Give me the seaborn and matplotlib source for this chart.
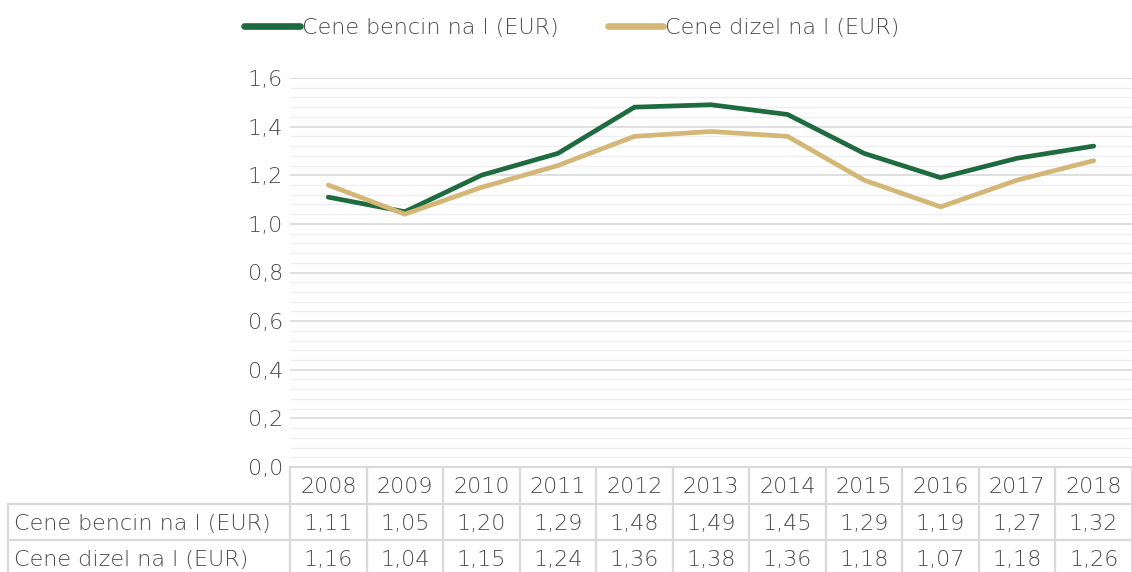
import matplotlib
matplotlib.use("Agg")
import matplotlib.pyplot as plt
import matplotlib.transforms as mtransforms
from matplotlib.ticker import MultipleLocator, FuncFormatter
import seaborn as sns
import pandas as pd

years = ["2008", "2009", "2010", "2011", "2012", "2013", "2014", "2015", "2016", "2017", "2018"]
series_names = ["Cene bencin na l (EUR)", "Cene dizel na l (EUR)"]
bencin = [1.11, 1.05, 1.20, 1.29, 1.48, 1.49, 1.45, 1.29, 1.19, 1.27, 1.32]
dizel = [1.16, 1.04, 1.15, 1.24, 1.36, 1.38, 1.36, 1.18, 1.07, 1.18, 1.26]
colors = ["#1E6B40", "#D4B776"]

sns.set_theme(style="white")
plt.rcParams["font.family"] = ["DejaVu Sans"]
plt.rcParams["font.weight"] = "light"
TXT = "#4a4a4a"
FS = 16

rows = []
for name, vals in zip(series_names, [bencin, dizel]):
    for i, v in enumerate(vals):
        rows.append({"idx": i, "year": years[i], "value": v, "series": name})
df = pd.DataFrame(rows)

fig = plt.figure(figsize=(11.32, 5.72), dpi=100)
W, H = 1132, 572
left, right, top, bottom = 290, 1132, 78, 467
ax = fig.add_axes([left / W, 1 - bottom / H, (right - left) / W, (bottom - top) / H])

sns.lineplot(data=df, x="idx", y="value", hue="series", palette=colors,
             linewidth=3.4, ax=ax, legend=True)
for line in ax.get_lines():
    line.set_solid_capstyle("round")
    line.set_solid_joinstyle("miter")

ax.set_xlim(-0.5, len(years) - 0.5)
ax.set_ylim(0, 1.6)
ax.yaxis.set_major_locator(MultipleLocator(0.2))
ax.yaxis.set_minor_locator(MultipleLocator(0.04))
ax.yaxis.set_major_formatter(FuncFormatter(lambda v, p: f"{v:.1f}".replace(".", ",")))
ax.grid(True, which="major", axis="y", color="#d9d9d9", linewidth=1.2)
ax.grid(True, which="minor", axis="y", color="#eeeeee", linewidth=1.0)
ax.set_axisbelow(True)
ax.tick_params(axis="y", which="both", length=0, labelsize=FS, labelcolor=TXT, pad=5)
ax.set_xticks([])
ax.set_xlabel("")
ax.set_ylabel("")
for s in ax.spines.values():
    s.set_visible(False)

# legend
handles, labels = ax.get_legend_handles_labels()
leg = ax.legend(handles, labels, loc="center", bbox_to_anchor=(572 / W, 1 - 28 / H),
                bbox_transform=fig.transFigure, ncol=2, frameon=False,
                fontsize=FS, handlelength=2.5, handletextpad=0.1, columnspacing=2.2)
for t in leg.get_texts():
    t.set_color(TXT)
for lh in leg.get_lines():
    lh.set_linewidth(4.8)
    lh.set_solid_capstyle("round")

# data table
trans = mtransforms.blended_transform_factory(ax.transData, fig.transFigure)
ftrans = fig.transFigure
grid_c = "#d9d9d9"
lw = 1.6
row_y = [467, 504, 540, 576]
fy = lambda py: 1 - py / H
n = len(years)

fig.add_artist(plt.Line2D([-0.5, n - 0.5], [fy(467)] * 2, transform=trans, color=grid_c, lw=lw))
for py in [504, 540]:
    fig.add_artist(plt.Line2D([8 / W, 1.0], [fy(py)] * 2, transform=ftrans, color=grid_c, lw=lw))
for i in range(n + 1):
    fig.add_artist(plt.Line2D([i - 0.5, i - 0.5], [fy(467), fy(572)], transform=trans, color=grid_c, lw=lw))
fig.add_artist(plt.Line2D([8 / W, 8 / W], [fy(504), fy(572)], transform=ftrans, color=grid_c, lw=lw))

for i, y in enumerate(years):
    fig.text(i, fy(487), y, transform=trans, ha="center", va="center", fontsize=FS, color=TXT)
for r, (name, vals) in enumerate(zip(series_names, [bencin, dizel])):
    cy = fy((row_y[r + 1] + row_y[r + 2]) / 2 + 2)
    fig.text(14 / W, cy, name, transform=ftrans, ha="left", va="center", fontsize=FS, color=TXT)
    for i, v in enumerate(vals):
        fig.text(i, cy, f"{v:.2f}".replace(".", ","), transform=trans, ha="center",
                 va="center", fontsize=FS, color=TXT)

fig.savefig("out.png", dpi=100)
